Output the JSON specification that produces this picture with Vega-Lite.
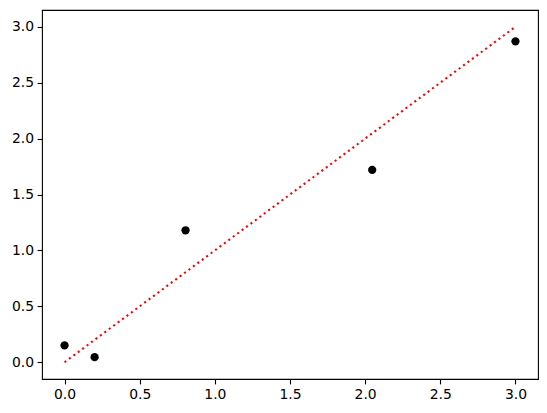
{
  "$schema": "https://vega.github.io/schema/vega-lite/v6.json",
  "width": 496,
  "height": 369,
  "autosize": {"type": "none"},
  "padding": {"left": 42, "top": 10, "right": 9, "bottom": 34},
  "background": "white",
  "config": {
    "view": {"stroke": "black", "strokeWidth": 1.1},
    "axis": {
      "domain": false,
      "grid": false,
      "ticks": true,
      "tickColor": "black",
      "tickSize": 4.9,
      "tickWidth": 1.1,
      "labelFont": "DejaVu Sans",
      "labelFontSize": 13.9,
      "labelColor": "black",
      "labelPadding": 3.5,
      "title": null
    }
  },
  "datasets": {
    "points": [
      {"x": 0.0, "y": 0.15},
      {"x": 0.2, "y": 0.045},
      {"x": 0.805, "y": 1.18},
      {"x": 2.047, "y": 1.72},
      {"x": 3.0, "y": 2.87}
    ],
    "fit": [
      {"x": 0.0, "y": 0.0},
      {"x": 3.0, "y": 3.0}
    ]
  },
  "layer": [
    {
      "data": {"name": "fit"},
      "mark": {"type": "line", "color": "red", "strokeWidth": 2.08, "strokeDash": [2.08, 3.44], "strokeCap": "butt", "clip": true},
      "encoding": {
        "x": {"field": "x", "type": "quantitative", "scale": {"domain": [-0.15, 3.15], "nice": false, "zero": false},
              "axis": {"values": [0, 0.5, 1, 1.5, 2, 2.5, 3], "format": ".1f"}},
        "y": {"field": "y", "type": "quantitative", "scale": {"domain": [-0.15, 3.15], "nice": false, "zero": false},
              "axis": {"values": [0, 0.5, 1, 1.5, 2, 2.5, 3], "format": ".1f"}}
      }
    },
    {
      "data": {"name": "points"},
      "mark": {"type": "point", "filled": true, "color": "black", "opacity": 1, "size": 68, "shape": "circle"},
      "encoding": {
        "x": {"field": "x", "type": "quantitative"},
        "y": {"field": "y", "type": "quantitative"}
      }
    }
  ]
}
